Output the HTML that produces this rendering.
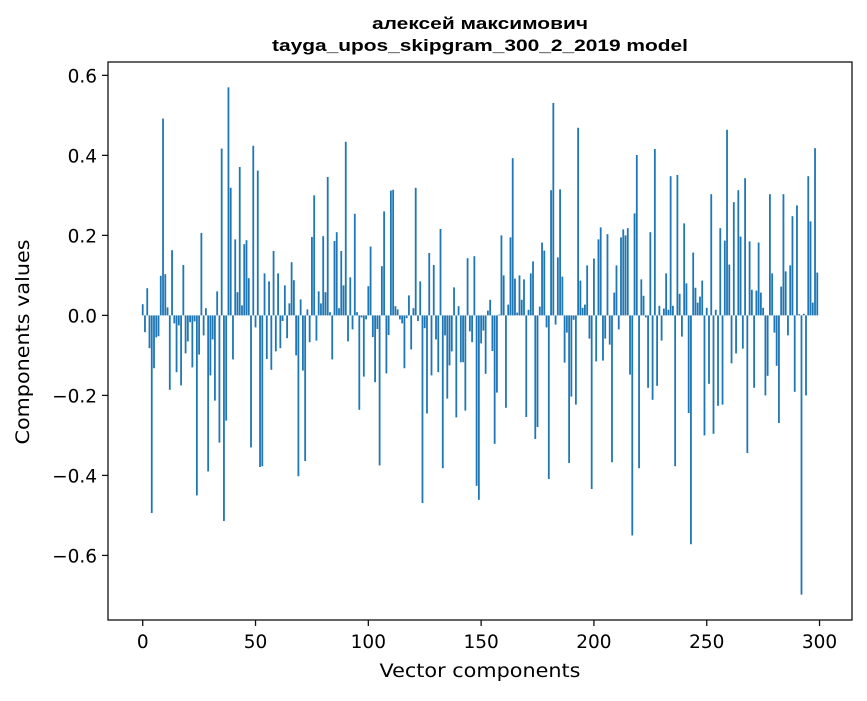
<!DOCTYPE html>
<html><head><meta charset="utf-8"><style>
body{margin:0;background:#fff;}
svg{font-family:"DejaVu Sans","Liberation Sans",sans-serif;}
</style></head><body>
<svg id="chart" width="867" height="696" xmlns="http://www.w3.org/2000/svg">
<rect width="867" height="696" fill="#fff"/>
<text x="480" y="29" text-anchor="middle" font-size="17" font-weight="bold" font-family="Liberation Sans, sans-serif" textLength="216" lengthAdjust="spacingAndGlyphs">алексей максимович</text>
<text x="480" y="51" text-anchor="middle" font-size="17" font-weight="bold" font-family="Liberation Sans, sans-serif" textLength="416" lengthAdjust="spacingAndGlyphs">tayga_upos_skipgram_300_2_2019 model</text>
<g id="bars"></g>
<g id="xaxis"></g>
<g id="yaxis"></g>
<rect x="108" y="62" width="744" height="558" fill="none" stroke="#111" stroke-width="1.3"/>
<text x="480" y="677" text-anchor="middle" font-size="19" textLength="201" lengthAdjust="spacingAndGlyphs">Vector components</text>
<text transform="translate(29,342) rotate(-90)" text-anchor="middle" font-size="19" textLength="205" lengthAdjust="spacingAndGlyphs">Components values</text>
</svg>
<script>
const values = [
0.028,-0.042,0.068,-0.082,-0.494,-0.132,-0.055,-0.052,0.099,0.492,
0.103,0.02,-0.186,0.163,-0.02,-0.142,-0.025,-0.175,0.126,-0.095,
-0.065,-0.017,-0.13,-0.015,-0.45,-0.098,0.206,-0.05,0.018,-0.39,
-0.15,-0.06,-0.213,0.06,-0.318,0.417,-0.514,-0.263,0.57,0.319,
-0.11,0.19,0.058,0.371,0.025,0.178,0.188,0.093,-0.33,0.424,
-0.03,0.362,-0.379,-0.377,0.105,-0.109,0.085,-0.136,0.161,-0.09,
0.105,-0.082,-0.014,0.075,-0.057,0.03,0.133,0.088,-0.1,-0.402,
0.04,-0.138,-0.364,0.015,-0.067,0.196,0.3,-0.063,0.06,0.03,
0.198,0.058,0.346,0.008,-0.11,0.186,0.208,0.018,0.161,0.075,
0.434,-0.065,0.095,-0.035,0.254,0.008,-0.236,-0.005,-0.153,-0.01,
0.073,0.172,-0.054,-0.167,-0.034,-0.375,0.123,0.26,-0.145,-0.049,
0.312,0.314,0.023,0.015,-0.01,-0.02,-0.132,-0.007,0.05,-0.085,
0.018,0.319,-0.014,0.085,-0.469,-0.032,-0.245,0.156,-0.15,0.126,
-0.06,-0.142,0.216,-0.382,-0.05,-0.208,-0.125,-0.09,0.07,-0.255,
0.023,-0.117,-0.117,-0.238,0.143,-0.04,-0.067,0.148,-0.426,-0.461,
-0.07,-0.038,-0.146,0.012,0.039,-0.089,-0.321,-0.193,0.002,0.2,
0.1,-0.231,0.027,0.195,0.393,0.092,0.007,0.1,0.039,0.09,
-0.254,0.014,0.105,0.135,-0.309,-0.279,0.022,0.182,0.162,-0.03,
-0.409,0.313,0.531,-0.023,0.145,0.315,0.097,-0.118,-0.043,-0.369,
-0.203,-0.011,-0.223,0.469,0.087,0.019,0.027,0.125,-0.058,-0.434,
0.142,-0.115,0.19,0.22,-0.113,-0.058,0.203,-0.073,-0.367,0.057,
0.125,-0.035,0.195,0.215,0.2,0.218,-0.148,-0.55,0.255,0.401,
-0.382,0.09,0.049,-0.005,-0.181,0.208,-0.211,0.416,-0.176,0.024,
-0.063,0.017,0.105,0.014,0.348,0.024,-0.377,0.351,0.054,-0.053,
0.23,0.08,-0.244,-0.572,0.157,0.069,0.032,0.047,0.087,-0.3,
0.019,-0.171,0.303,-0.296,0.014,-0.226,0.218,-0.223,0.187,0.464,
0.127,-0.12,0.283,-0.095,0.313,0.197,-0.083,0.343,-0.344,0.185,
0.064,-0.181,0.062,0.182,0.057,0.019,-0.2,-0.151,0.303,0.105,
-0.043,-0.126,-0.269,0.072,0.303,0.11,-0.05,0.125,0.248,-0.191,
0.275,0.003,-0.698,0.004,-0.2,0.348,0.235,0.032,0.418,0.107
];
const xTickValues = [0,50,100,150,200,250,300];
const yTickValues = [-0.6,-0.4,-0.2,0.0,0.2,0.4,0.6];
const yTickLabels = ["\u22120.6","\u22120.4","\u22120.2","0.0","0.2","0.4","0.6"];

const NS="http://www.w3.org/2000/svg";
const L=108,R=852,T=62,B=620;
const n=values.length;
const xmin=-0.4, xmax=(n-1)+0.4, xm=(xmax-xmin)*0.05;
const x0=xmin-xm, x1=xmax+xm;
let vmin=Math.min(0,...values), vmax=Math.max(0,...values);
const ym=(vmax-vmin)*0.05;
const y0=vmin-ym, y1=vmax+ym;
function xs(v){return L+(v-x0)/(x1-x0)*(R-L);}
function ys(v){return B-(v-y0)/(y1-y0)*(B-T);}
function mk(tag,attrs,parent){const e=document.createElementNS(NS,tag);for(const k in attrs)e.setAttribute(k,attrs[k]);parent.appendChild(e);return e;}

const bars=document.getElementById('bars');
values.forEach((v,i)=>{
  const xa=xs(i-0.4), xb=xs(i+0.4);
  const ya=ys(Math.max(v,0)), yb=ys(Math.min(v,0));
  const r=mk('rect',{x:xa,y:ya,width:xb-xa,height:Math.max(yb-ya,0.01),fill:'#1f77b4'},bars);
  
  
});

const xa=document.getElementById('xaxis');
xTickValues.forEach(t=>{
  const px=xs(t);
  const l=mk('line',{x1:px,x2:px,y1:B,y2:B+6,stroke:'#111','stroke-width':1.3},xa);
  
  
  const tx=mk('text',{x:px,y:B+28,'text-anchor':'middle','font-size':18.5},xa);
  tx.textContent=String(t);
  
  
});
const ya=document.getElementById('yaxis');
yTickValues.forEach((t,k)=>{
  const py=ys(t);
  const l=mk('line',{x1:L-6,x2:L,y1:py,y2:py,stroke:'#111','stroke-width':1.3},ya);
  
  
  const tx=mk('text',{x:L-11,y:py+7,'text-anchor':'end','font-size':18.5},ya);
  tx.textContent=yTickLabels[k];
  
  
});
</script>
</body></html>
